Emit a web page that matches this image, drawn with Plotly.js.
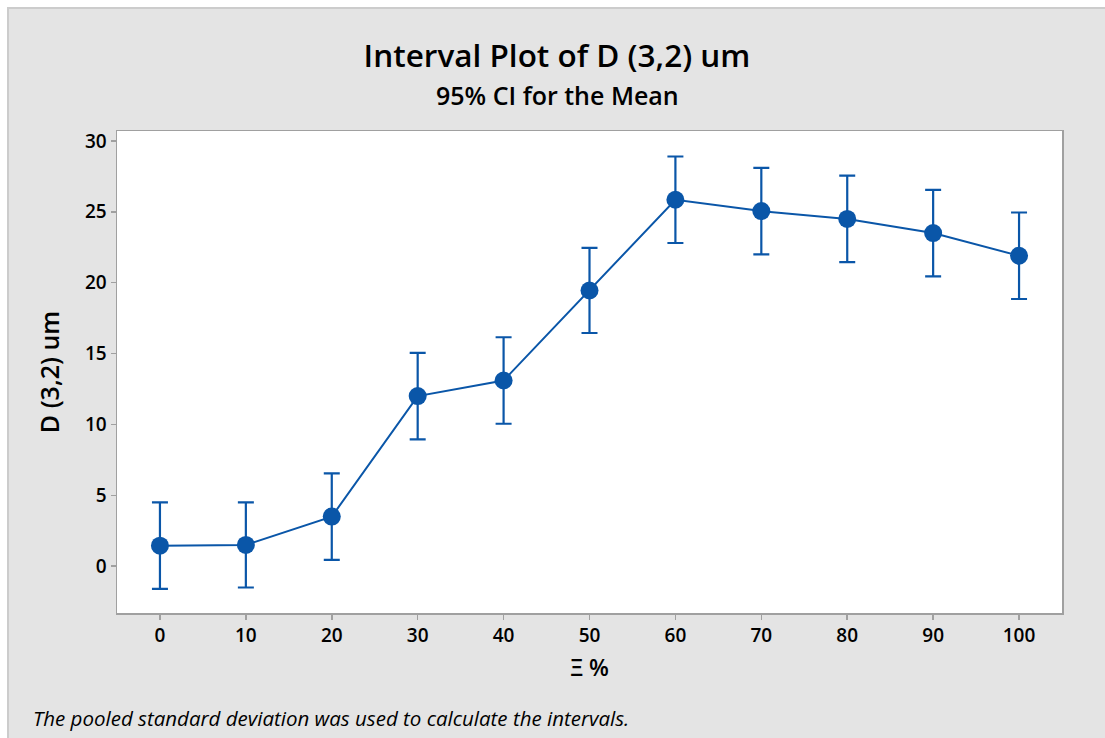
<!DOCTYPE html>
<html>
<head>
<meta charset="utf-8">
<script src="https://cdn.plot.ly/plotly-3.0.1.min.js"></script>
<style>
  html, body { margin: 0; padding: 0; background: #ffffff; width: 1105px; height: 738px; overflow: hidden; }
  #chart { position: absolute; left: 7px; top: 7px; width: 1098px; height: 731px;
           border-left: 2px solid #cccccc; border-top: 2px solid #cccccc; box-sizing: border-box; }
</style>
</head>
<body>
<div id="chart"></div>
<script>
const xiPercent = [0, 10, 20, 30, 40, 50, 60, 70, 80, 90, 100];
const meanD32 = [1.45, 1.5, 3.5, 12.0, 13.1, 19.45, 25.85, 25.05, 24.5, 23.5, 21.9];
const ciHalfWidth = [3.05, 3.0, 3.05, 3.05, 3.05, 3.0, 3.05, 3.05, 3.05, 3.05, 3.05];
const xTicks = [0, 10, 20, 30, 40, 50, 60, 70, 80, 90, 100];
const yTicks = [0, 5, 10, 15, 20, 25, 30];

const blue = '#0a56a8';
const fontFam = '"Open Sans", "Noto Sans", sans-serif';

const trace = {
  x: xiPercent,
  y: meanD32,
  type: 'scatter',
  mode: 'lines+markers',
  line: { color: blue, width: 2 },
  marker: { color: blue, size: 18, symbol: 'circle' },
  error_y: { type: 'data', array: ciHalfWidth, visible: true, color: blue, thickness: 2.2, width: 8 },
  hoverinfo: 'skip'
};

const W = 1096, H = 729;
const L = 107.5, R = 43, T = 121.5, B = 125;
const pw = W - L - R;
const ph = H - T - B;
const centerPaperX = (W / 2 - L) / pw;

const layout = {
  width: W, height: H,
  paper_bgcolor: '#e4e4e4',
  plot_bgcolor: '#ffffff',
  margin: { l: L, r: R, t: T, b: B, pad: 0 },
  showlegend: false,
  font: { family: fontFam, color: '#000000', size: 18 },
  title: {
    text: 'Interval Plot of D (3,2) um',
    x: 0.5, xref: 'container', xanchor: 'center',
    y: 1 - 47 / H, yref: 'container', yanchor: 'middle',
    font: { family: fontFam, size: 31.5, color: '#000000', weight: 600 }
  },
  xaxis: {
    range: [-5, 105],
    tickvals: xTicks,
    ticktext: xTicks.map(String),
    ticks: 'outside', ticklen: 5, tickwidth: 1.5, tickcolor: '#a0a0a0',
    showline: true, linecolor: '#a0a0a0', linewidth: 1.5, mirror: true,
    showgrid: false, zeroline: false,
    tickfont: { family: fontFam, size: 19, color: '#000000', weight: 600 },
    title: { text: 'Ξ %', font: { family: fontFam, size: 23, color: '#000000', weight: 600 }, standoff: 12 }
  },
  yaxis: {
    range: [-3.3, 30.7],
    tickvals: yTicks,
    ticktext: yTicks.map(String),
    ticks: 'outside', ticklen: 5, tickwidth: 1.5, tickcolor: '#a0a0a0',
    showline: true, linecolor: '#a0a0a0', linewidth: 1.5, mirror: true,
    showgrid: false, zeroline: false,
    tickfont: { family: fontFam, size: 19, color: '#000000', weight: 600 },
    title: { text: 'D (3,2) um', font: { family: fontFam, size: 25, color: '#000000', weight: 600 }, standoff: 18 }
  },
  annotations: [
    {
      text: '95% CI for the Mean',
      xref: 'paper', yref: 'paper',
      x: centerPaperX, y: 1 + (T - 85) / ph,
      xanchor: 'center', yanchor: 'middle', showarrow: false,
      font: { family: fontFam, size: 25, color: '#000000', weight: 600 }
    },
    {
      text: '<i>The pooled standard deviation was used to calculate the intervals.</i>',
      xref: 'paper', yref: 'paper',
      x: (21 - L) / pw, y: 1 - (709 - T) / ph,
      xanchor: 'left', yanchor: 'middle', showarrow: false,
      font: { family: fontFam, size: 20.5, color: '#000000' }
    }
  ]
};

Plotly.newPlot('chart', [trace], layout, { displayModeBar: false, staticPlot: true });
</script>
</body>
</html>
